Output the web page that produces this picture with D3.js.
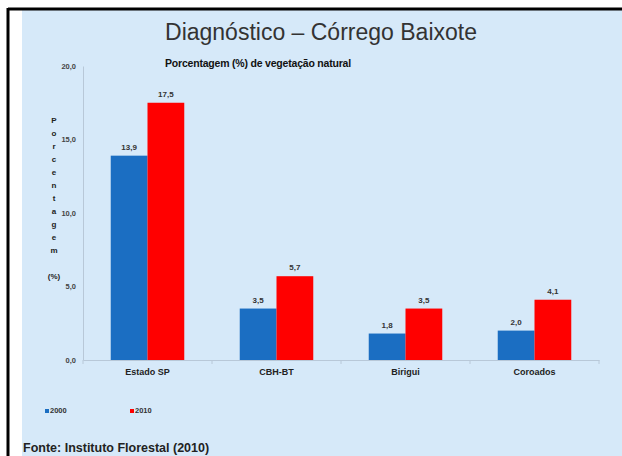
<!DOCTYPE html>
<html>
<head>
<meta charset="utf-8">
<script src="https://cdn.jsdelivr.net/npm/d3@7"></script>
<style>
  body { margin: 0; background: #fff; }
  svg { display: block; font-family: "Liberation Sans", Arial, sans-serif; }
</style>
</head>
<body>
<svg id="chart"></svg>
<script>
// data
const categories = ["Estado SP", "CBH-BT", "Birigui", "Coroados"];
const years = ["2000", "2010"];
const values2000 = [13.9, 3.5, 1.8, 2.0];
const values2010 = [17.5, 5.7, 3.5, 4.1];
const yTicks = [0, 5, 10, 15, 20];

const w = 622;
const h = 456;
const svg = d3.select("#chart").attr("width", w).attr("height", h);

const colors = { "2000": "#1b6ec2", "2010": "#ff0000" };
const fmt = (v) => v.toFixed(1).replace(".", ",");

// frame: black border, white strip, light blue panel
svg.append("rect").attr("x", 0).attr("y", 0).attr("width", w).attr("height", h).attr("fill", "#fff");
svg.append("rect").attr("x", 22).attr("y", 10).attr("width", w - 22).attr("height", h - 10).attr("fill", "#d6e9f9");
svg.append("line").attr("x1", 8).attr("x2", w).attr("y1", 9).attr("y2", 9).attr("stroke", "#000").attr("stroke-width", 3);
svg.append("line").attr("x1", 8).attr("x2", 8).attr("y1", 8).attr("y2", h).attr("stroke", "#000").attr("stroke-width", 3);

// titles
svg.append("text").attr("x", 321).attr("y", 40).attr("text-anchor", "middle")
  .attr("font-size", 23).attr("fill", "#333")
  .text("Diagnóstico – Córrego Baixote");
svg.append("text").attr("x", 258).attr("y", 67).attr("text-anchor", "middle")
  .attr("font-size", 10.5).attr("font-weight", "bold").attr("fill", "#111")
  .attr("letter-spacing", -0.2)
  .text("Porcentagem (%) de vegetação natural");

// scales
const x0 = d3.scaleBand().domain(categories).range([83, 599]).paddingInner(0.43).paddingOuter(0.215);
const x1 = d3.scaleBand().domain(years).range([0, x0.bandwidth()]);
const y = d3.scaleLinear().domain([0, 20]).range([360, 66]);

// y axis
const yAxis = svg.append("g").attr("transform", "translate(83,0)")
  .call(d3.axisLeft(y).tickValues(yTicks).tickSize(0).tickPadding(7).tickFormat(fmt));
yAxis.select(".domain").attr("stroke", "#b8c8d8");
yAxis.selectAll("text").attr("font-size", 7.5).attr("font-weight", "bold").attr("fill", "#444")
  .attr("font-family", "Liberation Sans, Arial, sans-serif");

// x axis
const xAxis = svg.append("g").attr("transform", "translate(0,360)")
  .call(d3.axisBottom(x0).tickSize(0).tickPadding(9));
xAxis.select(".domain").attr("stroke", "#b8c8d8");
xAxis.selectAll("text").attr("font-size", 9).attr("font-weight", "bold").attr("fill", "#222")
  .attr("font-family", "Liberation Sans, Arial, sans-serif");
// small separators between categories
const step = x0.step();
svg.append("g").selectAll("line")
  .data(d3.range(categories.length + 1))
  .join("line")
  .attr("x1", (i) => 83 + i * step).attr("x2", (i) => 83 + i * step)
  .attr("y1", 360).attr("y2", 364)
  .attr("stroke", "#b8c8d8");

// y axis title, letters stacked
const titleLetters = ["P", "o", "r", "c", "e", "n", "t", "a", "g", "e", "m", "", "(%)"];
svg.append("g").selectAll("text")
  .data(titleLetters)
  .join("text")
  .attr("x", 54)
  .attr("y", (d, i) => 123 + i * 13)
  .attr("text-anchor", "middle")
  .attr("font-size", 8)
  .attr("font-weight", "bold")
  .attr("fill", "#222")
  .text((d) => d);

// bars
const rows = categories.map((c, i) => ({ cat: c, vals: [
  { year: "2000", v: values2000[i] },
  { year: "2010", v: values2010[i] }
] }));

const groups = svg.append("g").selectAll("g")
  .data(rows)
  .join("g")
  .attr("transform", (d) => `translate(${x0(d.cat)},0)`);

groups.selectAll("rect")
  .data((d) => d.vals)
  .join("rect")
  .attr("x", (d) => x1(d.year))
  .attr("y", (d) => y(d.v))
  .attr("width", x1.bandwidth())
  .attr("height", (d) => y(0) - y(d.v))
  .attr("fill", (d) => colors[d.year]);

groups.selectAll("text")
  .data((d) => d.vals)
  .join("text")
  .attr("x", (d) => x1(d.year) + x1.bandwidth() / 2)
  .attr("y", (d) => y(d.v) - 6)
  .attr("text-anchor", "middle")
  .attr("font-size", 8)
  .attr("font-weight", "bold")
  .attr("fill", "#333")
  .text((d) => fmt(d.v));

// legend
const legend = svg.append("g").selectAll("g")
  .data(years)
  .join("g")
  .attr("transform", (d, i) => `translate(${45 + i * 85},413)`);
legend.append("rect").attr("x", 0).attr("y", -4).attr("width", 4).attr("height", 4)
  .attr("fill", (d) => colors[d]);
legend.append("text").attr("x", 5).attr("y", 0)
  .attr("font-size", 7.5).attr("font-weight", "bold").attr("fill", "#333")
  .text((d) => d);

// source
svg.append("text").attr("x", 23).attr("y", 452)
  .attr("font-size", 12.5).attr("font-weight", "bold").attr("fill", "#222")
  .text("Fonte: Instituto Florestal (2010)");
</script>
</body>
</html>
